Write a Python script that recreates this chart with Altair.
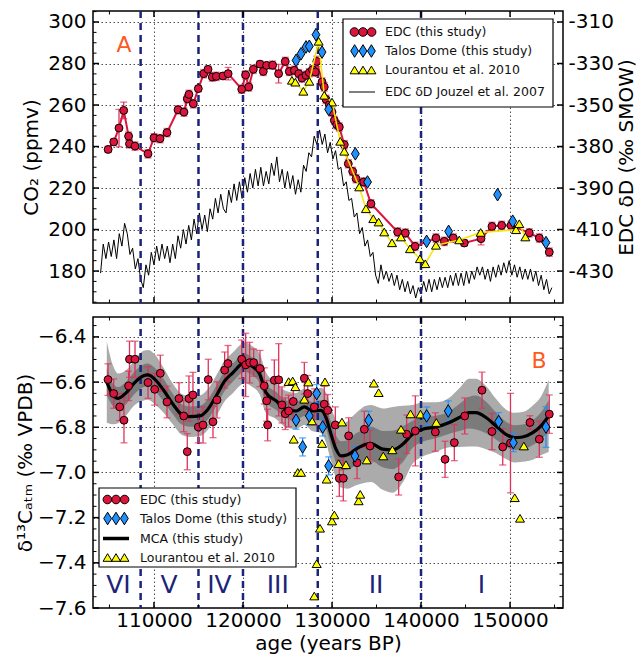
import altair as alt
import pandas as pd

# ---------------- data ----------------
# Panel A: EDC CO2 (ppmv) and 1-sigma error
co2_age = [104850, 105480, 106070, 106600, 107150, 107250, 107870, 109330, 110000, 110680,
           111460, 112700, 113370, 113740, 113930, 114420, 114980, 115590, 116070, 116550,
           117000, 117750, 118330, 119860, 120300, 120650, 121160, 121910, 122280, 122660,
           123330, 124000, 124750, 125200, 125770, 126260, 126630, 127080, 127450, 127800,
           128120, 128300, 128880, 129130, 129330, 129700, 130000, 130260, 130530, 130820,
           131380, 131830, 132320, 132700, 133560, 134380, 137380, 138240, 139330, 141680,
           142620, 143630, 144860, 146740, 147970, 149060, 150110, 152160, 153290, 154410]
co2_val = [238.6, 242.2, 248.9, 257.4, 245.0, 241.3, 240.2, 236.5, 244.2, 243.8,
           246.7, 257.7, 256.6, 263.0, 265.1, 260.6, 267.9, 275.1, 277.2, 273.5,
           273.8, 274.0, 275.1, 267.6, 274.5, 268.7, 277.2, 279.7, 276.2, 279.1,
           279.2, 275.1, 281.0, 276.2, 276.7, 275.1, 273.0, 274.3, 275.6, 277.0,
           275.9, 281.0, 271.1, 268.7, 262.7, 260.1, 256.6, 252.6, 250.5, 249.4,
           240.9, 231.7, 228.0, 224.5, 222.9, 212.4, 198.8, 198.3, 191.9, 195.9,
           194.3, 195.9, 193.5, 195.6, 201.5, 202.0, 202.0, 198.4, 195.9, 189.1]
co2_err = [1.5, 1.5, 9, 4, 2, 2, 2, 2, 2, 2,
           2, 2, 2, 2, 2, 2, 1.5, 2, 1.5, 2,
           2, 1.5, 3, 2, 2, 2, 2, 1.5, 2, 1.5,
           2, 4.5, 2, 2, 2, 2, 2, 2, 2, 2,
           2, 2.5, 2, 2, 2, 2, 2, 2, 2, 2,
           2, 2, 2, 2, 2, 2, 2, 2, 2, 2,
           2, 2, 1.5, 3, 2, 2, 2, 2, 2, 2]

# Talos Dome CO2
td_age = [125960, 126520, 127080, 127450, 128200, 128880, 129620, 132620, 133990, 140630,
          143100, 148600, 150300, 154040]
td_val = [281.5, 284.7, 288.0, 288.3, 293.9, 285.5, 257.9, 236.5, 222.9, 194.3,
          199.1, 216.8, 204.0, 193.7]

# Lourantou et al. 2010 CO2
lou_age = [125500, 125880, 126780, 127450, 128500, 129130, 130000, 130930, 131380, 133060,
           133810, 134640, 135240, 135870, 136740, 137750, 138760, 139880, 140480, 141680,
           144300, 146700, 150670, 151040, 151720]
lou_val = [271.9, 271.0, 266.6, 271.4, 290.7, 264.7, 261.4, 242.5, 237.7, 220.5,
           210.0, 205.2, 203.6, 198.8, 193.6, 196.4, 190.7, 185.9, 183.5, 192.4,
           195.0, 198.6, 199.9, 202.8, 196.4]

# EDC deltaD (Jouzel et al. 2007), permil
dD_age = [104000, 104300, 104600, 104900, 105200, 105500, 105800, 106100, 106400, 106700,
          107000, 107300, 107600, 107900, 108200, 108500, 108800, 109100, 109400, 109700,
          110000, 110300, 110600, 110900, 111200, 111500, 111800, 112100, 112400, 112700,
          113000, 113300, 113600, 113900, 114200, 114500, 114800, 115100, 115400, 115700,
          116000, 116300, 116600, 116900, 117200, 117500, 117800, 118100, 118400, 118700,
          119000, 119300, 119600, 119900, 120200, 120500, 120800, 121100, 121400, 121700,
          122000, 122300, 122600, 122900, 123200, 123500, 123800, 124100, 124400, 124700,
          125000, 125300, 125600, 125900, 126200, 126500, 126800, 127100, 127400, 127700,
          128000, 128300, 128600, 128900, 129200, 129500, 129800, 130100, 130400, 130700,
          131000, 131300, 131600, 131900, 132200, 132500, 132800, 133100, 133400, 133700,
          134000, 134300, 134600, 134900, 135200, 135500, 135800, 136100, 136400, 136700,
          137000, 137300, 137600, 137900, 138200, 138500, 138800, 139100, 139400, 139700,
          140000, 140300, 140600, 140900, 141200, 141500, 141800, 142100, 142400, 142700,
          143000, 143300, 143600, 143900, 144200, 144500, 144800, 145100, 145400, 145700,
          146000, 146300, 146600, 146900, 147200, 147500, 147800, 148100, 148400, 148700,
          149000, 149300, 149600, 149900, 150200, 150500, 150800, 151100, 151400, 151700,
          152000, 152300, 152600, 152900, 153200, 153500, 153800, 154100, 154400, 154700]
dD_val = [-431, -417, -424, -416, -423, -415, -424, -412, -418, -407,
          -412, -422, -419, -429, -424, -434, -438, -427, -432, -421,
          -427, -418, -425, -417, -424, -418, -426, -417, -424, -413,
          -419, -410, -417, -408, -415, -405, -412, -402, -410, -403,
          -411, -400, -405, -395, -402, -393, -400, -402, -391, -397,
          -388, -396, -387, -395, -385, -392, -383, -390, -381, -389,
          -380, -389, -382, -388, -378, -384, -375, -387, -381, -390,
          -382, -390, -384, -393, -386, -392, -379, -382, -373, -375,
          -365, -369, -362, -369, -364, -373, -368, -376, -372, -381,
          -380, -389, -387, -396, -395, -404, -402, -412, -409, -418,
          -415, -423, -421, -432, -436, -427, -434, -430, -435, -431,
          -437, -432, -439, -434, -440, -435, -441, -437, -443, -438,
          -441, -435, -440, -434, -440, -434, -439, -433, -438, -433,
          -438, -432, -437, -431, -437, -431, -437, -430, -436, -430,
          -434, -428, -432, -428, -434, -429, -435, -428, -433, -427,
          -432, -426, -431, -425, -432, -427, -433, -428, -434, -429,
          -434, -429, -435, -430, -437, -432, -439, -434, -441, -438]

# Panel B: EDC d13C (permil) and error
c13_age = [104835, 105475, 106150, 106630, 107150, 107250, 107870, 109330, 110080, 110710,
           111460, 112810, 113340, 113740, 113930, 114380, 114980, 115510, 116100, 116630,
           117080, 117940, 118310, 119855, 120300, 120750, 121200, 121910, 122390, 122660,
           122770, 123520, 124010, 124380, 124750, 125130, 125650, 126890, 127270, 128010,
           129130, 129520, 130370, 130820, 131270, 131870, 132810, 133630, 134270, 137490,
           138390, 139360, 141610, 142700, 143740, 144910, 146850, 147970, 149180, 150050,
           152240, 153290, 154410]
c13_val = [-6.589, -6.651, -6.710, -6.769, -6.617, -6.499, -6.499, -6.602, -6.632, -6.561,
           -6.688, -6.673, -6.750, -6.908, -6.673, -6.657, -6.799, -6.790, -6.589, -6.776,
           -6.679, -6.547, -6.518, -6.499, -6.524, -6.514, -6.514, -6.540, -6.617, -6.683,
           -6.790, -6.592, -6.590, -6.701, -6.740, -6.728, -6.686, -6.583, -6.651, -6.710,
           -6.698, -6.725, -6.790, -7.026, -7.026, -6.838, -6.957, -6.809, -6.883, -7.020,
           -6.831, -6.816, -6.821, -6.942, -6.868, -6.750, -6.636, -6.819, -6.887, -6.870,
           -6.779, -6.853, -6.742]
c13_err = [0.07, 0.065, 0.06, 0.10, 0.065, 0.08, 0.08, 0.07, 0.07, 0.08,
           0.07, 0.07, 0.07, 0.08, 0.10, 0.10, 0.07, 0.08, 0.09, 0.07,
           0.08, 0.08, 0.08, 0.085, 0.14, 0.09, 0.06, 0.08, 0.08, 0.09,
           0.07, 0.09, 0.16, 0.08, 0.07, 0.07, 0.08, 0.07, 0.08, 0.08,
           0.08, 0.07, 0.08, 0.08, 0.10, 0.08, 0.07, 0.08, 0.07, 0.08,
           0.085, 0.155, 0.085, 0.08, 0.08, 0.08, 0.08, 0.08, 0.08, 0.22,
           0.03, 0.08, 0.085]

# Talos Dome d13C
td13_age = [125960, 126700, 127450, 128280, 128950, 129620, 132580, 134120, 140630, 143060,
            148720, 150370, 154040]
td13_val = [-6.769, -6.887, -6.750, -6.651, -6.799, -6.971, -6.927, -6.769, -6.750, -6.728,
            -6.775, -6.868, -6.799]
td13_err = [0.04, 0.04, 0.04, 0.04, 0.04, 0.04, 0.04, 0.04, 0.04, 0.045,
            0.04, 0.04, 0.09]

# Lourantou et al. 2010 d13C
lou13_age = [125130, 125580, 125700, 125880, 126150, 126520, 126890, 127350, 127750, 128010,
             128280, 128650, 128880, 129210, 129400, 130000, 130260, 130750, 131120, 131570,
             132990, 133170, 133900, 134700, 135240, 135760, 136780, 137750, 138820, 139940,
             141720, 150530, 151120, 151550]
lou13_val = [-6.598, -6.595, -6.853, -6.621, -7.000, -7.000, -6.676, -6.600, -6.772, -7.547,
             -7.404, -7.247, -6.872, -6.599, -7.030, -7.215, -7.188, -6.961, -6.777, -6.966,
             -7.126, -7.097, -6.945, -6.605, -6.647, -6.927, -6.900, -6.809, -6.741, -6.742,
             -6.779, -7.112, -7.203, -6.883]

# MCA spline with 1-sigma and 2-sigma envelopes
mca_age = [104700, 105400, 105960, 106890, 107830, 108770, 109330, 110080, 111010, 112140,
           113070, 114010, 115130, 116070, 117000, 117940, 118880, 119810, 120190, 120930,
           121880, 122580, 123710, 124830, 125960, 126890, 127830, 128760, 129330, 129890,
           130450, 131010, 131760, 132700, 133820, 134380, 135690, 136810, 137940, 139060,
           140190, 141680, 143180, 144300, 145420, 146170, 147300, 148420, 149540, 150480,
           151420, 152550, 153480, 154340]
mca_val = [-6.600, -6.657, -6.672, -6.647, -6.602, -6.573, -6.568, -6.587, -6.632, -6.698,
           -6.742, -6.753, -6.750, -6.720, -6.661, -6.595, -6.558, -6.521, -6.514, -6.528,
           -6.565, -6.647, -6.683, -6.720, -6.728, -6.710, -6.728, -6.725, -6.757, -6.831,
           -6.897, -6.927, -6.922, -6.897, -6.875, -6.872, -6.897, -6.900, -6.875, -6.831,
           -6.809, -6.799, -6.779, -6.757, -6.735, -6.735, -6.757, -6.794, -6.831, -6.846,
           -6.843, -6.824, -6.794, -6.750]
mca_s1 = [0.06, 0.05, 0.05, 0.05, 0.05, 0.05, 0.05, 0.05, 0.05, 0.045,
          0.045, 0.045, 0.045, 0.045, 0.045, 0.045, 0.04, 0.04, 0.04, 0.04,
          0.04, 0.04, 0.04, 0.04, 0.04, 0.04, 0.04, 0.045, 0.05, 0.055,
          0.06, 0.065, 0.065, 0.07, 0.07, 0.075, 0.08, 0.085, 0.08, 0.06,
          0.055, 0.05, 0.05, 0.06, 0.07, 0.075, 0.07, 0.06, 0.055, 0.055,
          0.055, 0.055, 0.06, 0.07]
mca_s2 = [0.18, 0.13, 0.11, 0.10, 0.10, 0.11, 0.11, 0.11, 0.10, 0.09,
          0.09, 0.09, 0.09, 0.09, 0.09, 0.09, 0.09, 0.09, 0.09, 0.09,
          0.09, 0.09, 0.08, 0.08, 0.08, 0.08, 0.09, 0.10, 0.11, 0.12,
          0.13, 0.14, 0.15, 0.16, 0.17, 0.17, 0.18, 0.19, 0.17, 0.13,
          0.12, 0.11, 0.11, 0.13, 0.15, 0.15, 0.14, 0.12, 0.11, 0.11,
          0.11, 0.12, 0.13, 0.16]

# stage boundaries and labels
vline_age = [108500, 115000, 120000, 128400, 140000]
stage_lab = ["VI", "V", "IV", "III", "II", "I"]
stage_age = [106000, 111700, 117350, 123900, 134950, 146800]

# axes
x_major = [110000, 120000, 130000, 140000, 150000]
x_minor = [105000, 115000, 125000, 135000, 145000, 155000]
co2_major = [180, 200, 220, 240, 260, 280, 300]
co2_minor = [v for v in range(165, 306, 5) if v % 20 != 0]
dd_major = [-430, -410, -390, -370, -350, -330, -310]
c13_major = [-7.6, -7.4, -7.2, -7.0, -6.8, -6.6, -6.4]
c13_minor = [round(-7.55 + 0.05 * i, 2) for i in range(25) if round((-7.55 + 0.05 * i) * 100) % 20 != 0]

top_legend = ["EDC (this study)", "Talos Dome (this study)", "Lourantou et al. 2010",
              "EDC \u03b4D Jouzel et al. 2007"]
bot_legend = ["EDC (this study)", "Talos Dome (this study)", "MCA (this study)",
              "Lourantou et al. 2010"]

# ---------------- style ----------------
W, H1, H2 = 470, 292, 291
XDOM = [103150, 155950]
CO2DOM = [164.6, 305.3]
DD_SHIFT = 610
DDOM = [CO2DOM[0] - DD_SHIFT, CO2DOM[1] - DD_SHIFT]
C13DOM = [-7.6, -6.312]

FONT = "DejaVu Sans"
RED = "#dc143c"
ERR_RED = "#e0305a"
BLUE = "#1e90ff"
YEL = "#ffff00"
NAVY = "#1c237a"
ORANGE = "#ff5a1e"
GRID = dict(grid=True, gridColor="#3a3a3a", gridDash=[1.5, 2.5], gridWidth=0.9, gridOpacity=1)

CIRC3 = ("M-1,0A1,1,0,1,1,-3,0A1,1,0,1,1,-1,0Z "
         "M1,0A1,1,0,1,1,-1,0A1,1,0,1,1,1,0Z "
         "M3,0A1,1,0,1,1,1,0A1,1,0,1,1,3,0Z")
DIA = "M0,-1L0.62,0L0,1L-0.62,0Z"
DIA3 = ("M-1.33,-1L-0.71,0L-1.33,1L-1.95,0Z "
        "M0,-1L0.62,0L0,1L-0.62,0Z "
        "M1.33,-1L1.95,0L1.33,1L0.71,0Z")
TRI = "M0,-0.85L1,0.85L-1,0.85Z"
TRI3 = ("M-1.87,-0.85L-0.87,0.85L-2.87,0.85Z "
        "M0,-0.85L1,0.85L-1,0.85Z "
        "M1.87,-0.85L2.87,0.85L0.87,0.85Z")

xs = alt.Scale(domain=XDOM, nice=False, zero=False)
ys_co2 = alt.Scale(domain=CO2DOM, nice=False, zero=False)
ys_dd = alt.Scale(domain=DDOM, nice=False, zero=False)
ys_13 = alt.Scale(domain=C13DOM, nice=False, zero=False)

# one axis definition per channel, reused by every layer that shares the scale
x_axis_top = alt.Axis(values=x_major, labels=False, ticks=False, domain=False, title="", **GRID)
x_axis_bot = alt.Axis(values=x_major, format="d", title="age (years BP)", labelFontSize=20,
                      titleFontSize=20, ticks=False, domain=False, labelPadding=2,
                      titlePadding=3, **GRID)
y_axis_co2 = alt.Axis(orient="left", values=co2_major, title="CO\u2082 (ppmv)", labelFontSize=20,
                      titleFontSize=20, ticks=False, domain=False, labelPadding=7,
                      titlePadding=6, **GRID)
y_axis_dd = alt.Axis(orient="right", values=dd_major, title="EDC \u03b4D (\u2030 SMOW)",
                     labelExpr="datum.value == -370 ? '-380' : '-' + format(abs(datum.value), 'd')",
                     labelFontSize=20, titleFontSize=20, ticks=False, domain=False, grid=False,
                     labelPadding=5, titlePadding=3, titleAngle=270, titleBaseline="top")
y_axis_13 = alt.Axis(orient="left", values=c13_major, format=".1f",
                     title="\u03b4\u00b9\u00b3C\u2090\u209c\u2098 (\u2030 VPDB)", labelFontSize=20,
                     titleFontSize=20, ticks=False, domain=False, labelPadding=7,
                     titlePadding=2, **GRID)


def pts(df, yfield, ys, xa, ya, shape, fill, size):
    return alt.Chart(df).mark_point(shape=shape, filled=True, fill=fill, stroke="black",
                                    strokeWidth=1, size=size, opacity=1).encode(
        x=alt.X("age:Q", scale=xs, axis=xa), y=alt.Y(f"{yfield}:Q", scale=ys, axis=ya))


def errbars(df, ys, xa, ya, color, width):
    return alt.Chart(df).transform_calculate(
        lo="datum.v - datum.e", hi="datum.v + datum.e"
    ).mark_errorbar(orient="vertical", ticks=True, size=7, thickness=width, color=color).encode(
        x=alt.X("age:Q", scale=xs, axis=xa), y=alt.Y("lo:Q", scale=ys, axis=ya), y2="hi:Q")


def yticks(vals, ys, ya, side, length, width):
    x0 = 0 if side == "left" else W
    x1 = length if side == "left" else W - length
    return alt.Chart(pd.DataFrame({"v": vals})).mark_rule(color="black", strokeWidth=width).encode(
        y=alt.Y("v:Q", scale=ys, axis=ya), x=alt.value(x0), x2=alt.value(x1))


def xticks(vals, xa, edge, length, width, down):
    return alt.Chart(pd.DataFrame({"v": vals})).mark_rule(color="black", strokeWidth=width).encode(
        x=alt.X("v:Q", scale=xs, axis=xa), y=alt.value(edge),
        y2=alt.value(edge + length if down else edge - length))


def frame_ticks(H, xa, ymaj, ymin, ys, ya, right_side):
    layers = [xticks(x_major, xa, 0, 6, 1.5, True), xticks(x_minor, xa, 0, 3.5, 1, True),
              xticks(x_major, xa, H, 6, 1.5, False), xticks(x_minor, xa, H, 3.5, 1, False),
              yticks(ymaj, ys, ya, "left", 6, 1.5), yticks(ymin, ys, ya, "left", 3.5, 1)]
    if right_side:
        layers += [yticks(ymaj, ys, ya, "right", 6, 1.5), yticks(ymin, ys, ya, "right", 3.5, 1)]
    return layers


def one(label):
    return alt.Chart(pd.DataFrame({"t": [label]}))


def legend(labels, kinds, box, rows, sym_x, txt_x, line_span):
    lay = [one("box").mark_rect(fill="white", stroke="black", strokeWidth=1.2).encode(
        x=alt.value(box[0]), x2=alt.value(box[1]), y=alt.value(box[2]), y2=alt.value(box[3]))]
    for lab, kind, yy in zip(labels, kinds, rows):
        if kind == "circ":
            lay.append(one(lab).mark_point(shape=CIRC3, filled=True, fill=RED, stroke="black",
                                           strokeWidth=1, size=74, opacity=1).encode(
                x=alt.value(sym_x), y=alt.value(yy)))
        elif kind == "dia":
            lay.append(one(lab).mark_point(shape=DIA3, filled=True, fill=BLUE, stroke="black",
                                           strokeWidth=1, size=159, opacity=1).encode(
                x=alt.value(sym_x), y=alt.value(yy)))
        elif kind == "tri":
            lay.append(one(lab).mark_point(shape=TRI3, filled=True, fill=YEL, stroke="black",
                                           strokeWidth=1, size=81, opacity=1).encode(
                x=alt.value(sym_x), y=alt.value(yy)))
        else:
            lay.append(one(lab).mark_rule(color="black", strokeWidth=kind).encode(
                x=alt.value(line_span[0]), x2=alt.value(line_span[1]), y=alt.value(yy)))
        lay.append(one(lab).mark_text(align="left", baseline="middle", font=FONT, fontSize=12.5,
                                      color="#111111").encode(
            x=alt.value(txt_x), y=alt.value(yy), text="t:N"))
    return lay


# ---------------- frames ----------------
co2_df = pd.DataFrame({"age": co2_age, "v": co2_val, "e": co2_err})
td_df = pd.DataFrame({"age": td_age, "v": td_val})
lou_df = pd.DataFrame({"age": lou_age, "v": lou_val})
dd_df = pd.DataFrame({"age": dD_age, "dd": dD_val})
c13_df = pd.DataFrame({"age": c13_age, "v": c13_val, "e": c13_err})
td13_df = pd.DataFrame({"age": td13_age, "v": td13_val, "e": td13_err})
lou13_df = pd.DataFrame({"age": lou13_age, "v": lou13_val})
mca_df = pd.DataFrame({"age": mca_age, "v": mca_val, "s1": mca_s1, "s2": mca_s2})
mca_df["lo1"] = mca_df.v - mca_df.s1
mca_df["hi1"] = mca_df.v + mca_df.s1
mca_df["lo2"] = mca_df.v - mca_df.s2
mca_df["hi2"] = mca_df.v + mca_df.s2
vl_df = pd.DataFrame({"age": vline_age})
stage_df = pd.DataFrame({"age": stage_age, "lab": stage_lab})

# ---------------- panel A ----------------
XA, YA = x_axis_top, y_axis_co2
dd_line = alt.Chart(dd_df).mark_line(color="black", strokeWidth=1).encode(
    x=alt.X("age:Q", scale=xs, axis=XA), y=alt.Y("dd:Q", scale=ys_dd, axis=y_axis_dd))
dd_layer = alt.layer(dd_line, yticks(dd_major, ys_dd, y_axis_dd, "right", 6, 1.5))

vl_top = alt.Chart(vl_df).mark_rule(color=NAVY, strokeWidth=2.5, strokeDash=[7, 5]).encode(
    x=alt.X("age:Q", scale=xs, axis=XA))
co2_line = alt.Chart(co2_df).mark_line(color=RED, strokeWidth=2).encode(
    x=alt.X("age:Q", scale=xs, axis=XA), y=alt.Y("v:Q", scale=ys_co2, axis=YA))
lou_line = alt.Chart(lou_df).mark_line(color="#f5e800", strokeWidth=1.5).encode(
    x=alt.X("age:Q", scale=xs, axis=XA), y=alt.Y("v:Q", scale=ys_co2, axis=YA))
label_a = one("A").mark_text(font=FONT, fontSize=22, color=ORANGE, baseline="middle").encode(
    x=alt.value(31), y=alt.value(34), text="t:N")

co2_layer = alt.layer(
    vl_top,
    errbars(co2_df, ys_co2, XA, YA, ERR_RED, 1.3),
    co2_line,
    pts(co2_df, "v", ys_co2, XA, YA, "circle", RED, 62),
    lou_line,
    pts(lou_df, "v", ys_co2, XA, YA, TRI, YEL, 81),
    pts(td_df, "v", ys_co2, XA, YA, DIA, BLUE, 159),
    label_a,
    *legend(top_legend, ["circ", "dia", "tri", 1], [250, 460, 8, 96], [21, 40, 59, 81],
            270, 292, [256, 282]),
    *frame_ticks(H1, XA, co2_major, co2_minor, ys_co2, YA, False),
)

top = alt.layer(dd_layer, co2_layer).resolve_scale(y="independent").properties(width=W, height=H1)

# ---------------- panel B ----------------
XB, YB = x_axis_bot, y_axis_13
band2 = alt.Chart(mca_df).mark_area(color="#ababab", opacity=1, interpolate="monotone").encode(
    x=alt.X("age:Q", scale=xs, axis=XB), y=alt.Y("lo2:Q", scale=ys_13, axis=YB), y2="hi2:Q")
band1 = alt.Chart(mca_df).mark_area(color="#7b7b7b", opacity=1, interpolate="monotone").encode(
    x=alt.X("age:Q", scale=xs, axis=XB), y=alt.Y("lo1:Q", scale=ys_13, axis=YB), y2="hi1:Q")
vl_bot = alt.Chart(vl_df).mark_rule(color=NAVY, strokeWidth=2.5, strokeDash=[7, 5]).encode(
    x=alt.X("age:Q", scale=xs, axis=XB))
mca_line = alt.Chart(mca_df).mark_line(color="black", strokeWidth=3.2, interpolate="monotone").encode(
    x=alt.X("age:Q", scale=xs, axis=XB), y=alt.Y("v:Q", scale=ys_13, axis=YB))
roman = alt.Chart(stage_df).mark_text(font=FONT, fontSize=25, color=NAVY, baseline="middle").encode(
    x=alt.X("age:Q", scale=xs, axis=XB), y=alt.value(268), text="lab:N")
label_b = one("B").mark_text(font=FONT, fontSize=22, color=ORANGE, baseline="middle").encode(
    x=alt.value(446), y=alt.value(44), text="t:N")

bottom = alt.layer(
    band2, band1, vl_bot,
    errbars(c13_df, ys_13, XB, YB, ERR_RED, 1.3),
    errbars(td13_df, ys_13, XB, YB, BLUE, 1.3),
    mca_line,
    pts(c13_df, "v", ys_13, XB, YB, "circle", RED, 62),
    pts(lou13_df, "v", ys_13, XB, YB, TRI, YEL, 81),
    pts(td13_df, "v", ys_13, XB, YB, DIA, BLUE, 159),
    roman, label_b,
    *legend(bot_legend, ["circ", "dia", 3.5, "tri"], [6, 203, 171, 250],
            [182.5, 201.5, 221.5, 240.5], 23, 47, [10, 36]),
    *frame_ticks(H2, XB, c13_major, c13_minor, ys_13, YB, True),
).properties(width=W, height=H2)

chart = alt.vconcat(top, bottom, spacing=10).properties(
    padding={"left": 14, "right": 0, "top": 9, "bottom": 2}, background="white"
).configure_view(stroke="black", strokeWidth=1.5).configure_axis(
    labelFont=FONT, titleFont=FONT, labelColor="black", titleColor="black",
    titleFontWeight="normal")

chart.save("out.html", embed_options={"renderer": "svg", "actions": False})
